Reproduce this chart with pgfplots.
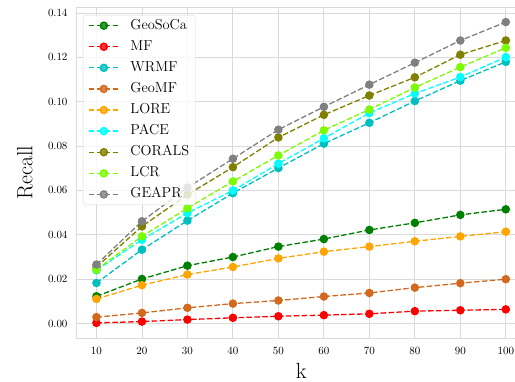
\documentclass[border=0pt]{standalone}
\usepackage{pgfplots}
\usepackage{pgfplotstable}
\pgfplotsset{compat=1.18}
\definecolor{cGeoSoCa}{RGB}{0,128,0}
\definecolor{cMF}{RGB}{255,0,0}
\definecolor{cWRMF}{RGB}{0,191,191}
\definecolor{cGeoMF}{RGB}{210,105,30}
\definecolor{cLORE}{RGB}{255,165,0}
\definecolor{cPACE}{RGB}{0,255,255}
\definecolor{cCORALS}{RGB}{128,128,0}
\definecolor{cLCR}{RGB}{124,252,0}
\definecolor{cGEAPR}{RGB}{128,128,128}
\definecolor{gridgray}{RGB}{218,218,218}

\pgfplotstableread{
k   GeoSoCa MF     WRMF   GeoMF  LORE   PACE   CORALS LCR    GEAPR
10  0.0123  0.0003 0.0183 0.0029 0.0111 0.0240 0.0255 0.0243 0.0266
20  0.0201  0.0009 0.0333 0.0048 0.0173 0.0378 0.0438 0.0393 0.0461
30  0.0261  0.0018 0.0464 0.0071 0.0221 0.0498 0.0581 0.0520 0.0613
40  0.0300  0.0026 0.0588 0.0090 0.0255 0.0600 0.0705 0.0641 0.0743
50  0.0347  0.0033 0.0701 0.0104 0.0294 0.0721 0.0839 0.0758 0.0874
60  0.0381  0.0038 0.0811 0.0122 0.0324 0.0835 0.0941 0.0871 0.0977
70  0.0422  0.0044 0.0905 0.0138 0.0347 0.0949 0.1028 0.0965 0.1077
80  0.0454  0.0056 0.1003 0.0162 0.0371 0.1037 0.1110 0.1064 0.1176
90  0.0490  0.0060 0.1095 0.0182 0.0393 0.1111 0.1212 0.1156 0.1276
100 0.0515  0.0064 0.1180 0.0200 0.0414 0.1201 0.1276 0.1243 0.1359
}\datatable

\pgfplotsset{
  myline/.style={color=#1, mark=*, mark size=3.6pt, line width=1.3pt,
    dash pattern=on 5.5pt off 2.4pt, mark options={solid, fill=#1}},
}

\begin{document}
\begin{tikzpicture}
\begin{axis}[
  at={(76pt,44pt)}, anchor=south west,
  scale only axis, width=450.3pt, height=331pt,
  xmin=5.5, xmax=104.5, ymin=-0.0065, ymax=0.1427,
  xtick={10,20,...,100},
  ytick={0,0.02,0.04,0.06,0.08,0.10,0.12,0.14},
  scaled y ticks=false,
  yticklabel style={/pgf/number format/fixed, /pgf/number format/fixed zerofill, /pgf/number format/precision=2, xshift=-5pt},
  major tick length=0pt,
  tick label style={font=\fontsize{10.5}{12}\selectfont},
  xticklabel style={yshift=-6pt},
  grid=major,
  grid style={color=gridgray, line width=0.9pt},
  axis line style={color=gridgray, line width=0.9pt},
  xlabel={k}, ylabel={Recall},
  label style={font=\fontsize{22}{26}\selectfont},
  xlabel style={at={(axis description cs:0.5,-0.099)}, anchor=center},
  ylabel style={at={(axis description cs:-0.1133,0.5)}, anchor=center},
  legend style={at={(0.0155,0.976)}, anchor=north west,
    draw=gridgray, rounded corners=3pt, fill=white, fill opacity=0.8,
    text opacity=1, draw opacity=1,
    font=\fontsize{14.4}{17}\selectfont,
    inner xsep=5pt, inner ysep=3pt, row sep=6.1pt, column sep=10pt,
    nodes={inner sep=1pt, text height=10pt, text depth=3pt}},
  legend cell align=left,
  legend image code/.code={
    \draw[mark repeat=2, mark phase=2] plot coordinates {(0pt,0pt) (15pt,0pt) (30pt,0pt)};
  },
]
\addplot[myline=cGeoSoCa] table[x=k, y=GeoSoCa]{\datatable};
\addlegendentry{GeoSoCa}
\addplot[myline=cMF] table[x=k, y=MF]{\datatable};
\addlegendentry{MF}
\addplot[myline=cWRMF] table[x=k, y=WRMF]{\datatable};
\addlegendentry{WRMF}
\addplot[myline=cGeoMF] table[x=k, y=GeoMF]{\datatable};
\addlegendentry{GeoMF}
\addplot[myline=cLORE] table[x=k, y=LORE]{\datatable};
\addlegendentry{LORE}
\addplot[myline=cPACE] table[x=k, y=PACE]{\datatable};
\addlegendentry{PACE}
\addplot[myline=cCORALS] table[x=k, y=CORALS]{\datatable};
\addlegendentry{CORALS}
\addplot[myline=cLCR] table[x=k, y=LCR]{\datatable};
\addlegendentry{LCR}
\addplot[myline=cGEAPR] table[x=k, y=GEAPR]{\datatable};
\addlegendentry{GEAPR}
\end{axis}
\pgfresetboundingbox
\useasboundingbox (0,0) rectangle (515pt,382pt);
\end{tikzpicture}
\end{document}
